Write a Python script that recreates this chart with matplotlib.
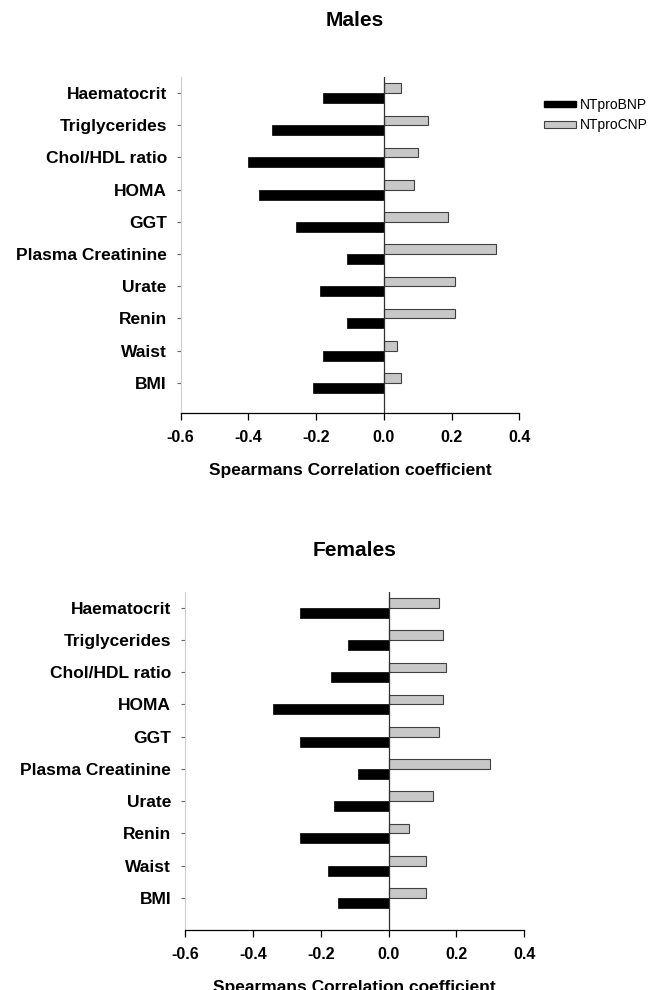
import numpy as np
import matplotlib.pyplot as plt
from matplotlib.patches import Patch

plt.rcParams['font.family'] = ['Liberation Sans', 'DejaVu Sans']

# categories listed from top to bottom
categories = ['Haematocrit', 'Triglycerides', 'Chol/HDL ratio', 'HOMA', 'GGT',
              'Plasma Creatinine', 'Urate', 'Renin', 'Waist', 'BMI']

males_bnp = [-0.18, -0.33, -0.40, -0.37, -0.26, -0.11, -0.19, -0.11, -0.18, -0.21]
males_cnp = [0.05, 0.13, 0.10, 0.09, 0.19, 0.33, 0.21, 0.21, 0.04, 0.05]

females_bnp = [-0.26, -0.12, -0.17, -0.34, -0.26, -0.09, -0.16, -0.26, -0.18, -0.15]
females_cnp = [0.15, 0.16, 0.17, 0.16, 0.15, 0.30, 0.13, 0.06, 0.11, 0.11]

xticks = [-0.6, -0.4, -0.2, 0.0, 0.2, 0.4]
xlabel = 'Spearmans Correlation coefficient'

W, H = 655, 990
fig = plt.figure(figsize=(W / 100, H / 100), dpi=100)


def panel(rect, bnp, cnp, ylim):
    ax = fig.add_axes(rect)
    n = len(categories)
    y = np.arange(n)[::-1]
    ax.barh(y, cnp, height=0.3, align='edge', color='#c8c8c8',
            edgecolor='#404040', linewidth=0.8, zorder=2)
    ax.barh(y, bnp, height=-0.31, align='edge', color='black',
            edgecolor='black', linewidth=0.5, zorder=2)
    ax.axvline(0, color='#303030', linewidth=0.9, zorder=3)
    ax.set_xlim(-0.6, 0.4)
    ax.set_ylim(*ylim)
    ax.set_yticks(y)
    ax.set_yticklabels(categories, fontsize=12.5, fontweight='bold')
    ax.set_xticks(xticks)
    ax.set_xticklabels(['%.1f' % t for t in xticks], fontsize=11.5, fontweight='bold')
    for s in ('top', 'right'):
        ax.spines[s].set_visible(False)
    ax.spines['left'].set_color('#cccccc')
    ax.spines['left'].set_linewidth(0.8)
    ax.spines['bottom'].set_linewidth(0.9)
    ax.tick_params(axis='y', length=3, width=0.8, color='#666666', pad=7)
    ax.tick_params(axis='x', length=5, width=0.9, direction='out', pad=7)
    ax.set_xlabel(xlabel, fontsize=12.5, fontweight='bold', labelpad=13)
    return ax


ax1 = panel([180.7 / W, 1 - 413.3 / H, 338.6 / W, 336.3 / H],
            males_bnp, males_cnp, (-0.95, 9.5))
ax2 = panel([185 / W, 1 - 930 / H, 339.3 / W, 338.3 / H],
            females_bnp, females_cnp, (-1.0, 9.5))

fig.text(355 / W, 1 - 21 / H, 'Males', ha='center', va='center',
         fontsize=15, fontweight='bold')
fig.text(355 / W, 1 - 550 / H, 'Females', ha='center', va='center',
         fontsize=15, fontweight='bold')

handles = [Patch(facecolor='black', edgecolor='black', label='NTproBNP'),
           Patch(facecolor='#c8c8c8', edgecolor='#404040', linewidth=0.8, label='NTproCNP')]
fig.legend(handles=handles, loc='upper left', bbox_to_anchor=(544 / W, 1 - 98 / H),
           frameon=False, fontsize=10, handlelength=2.3, handleheight=0.35,
           handletextpad=0.25, labelspacing=0.45, borderpad=0, borderaxespad=0)

fig.savefig('out.png', dpi=100)
